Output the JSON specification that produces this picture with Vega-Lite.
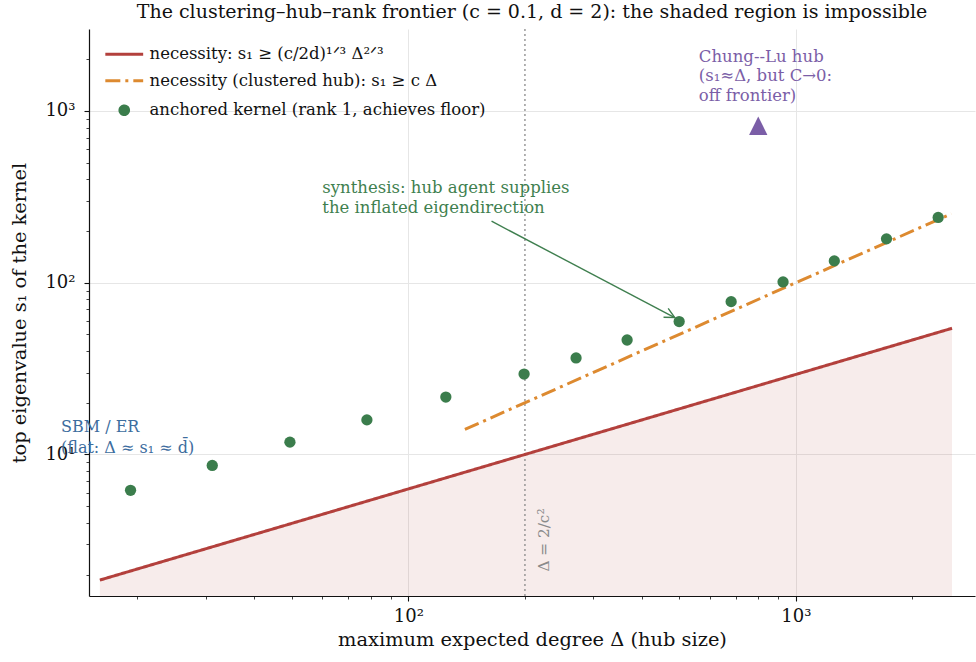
{
  "$schema": "https://vega.github.io/schema/vega-lite/v6.json",
  "width": 886,
  "height": 567,
  "autosize": "none",
  "padding": {"left": 89, "top": 29, "right": 1, "bottom": 66},
  "config": {
    "font": "DejaVu Serif",
    "view": {"stroke": null},
    "legend": {
      "orient": "none", "legendX": 27, "legendY": 17, "title": null,
      "labelFontSize": 16.5, "labelFont": "DejaVu Serif", "labelColor": "#111",
      "symbolStrokeWidth": 3, "symbolSize": 74, "labelOffset": 17, "rowPadding": 9.5, "padding": 0,
      "labelLimit": 600
    }
  },
  "title": {
    "text": "The clustering–hub–rank frontier (c = 0.1, d = 2): the shaded region is impossible",
    "fontSize": 19, "fontWeight": "normal", "font": "DejaVu Serif", "color": "#111", "anchor": "middle", "offset": 6
  },
  "datasets": {
    "necessity": [
      {"series": "necessity: s₁ ≥ (c/2d)¹ᐟ³ Δ²ᐟ³", "delta": 16, "s1": 1.857},
      {"series": "necessity: s₁ ≥ (c/2d)¹ᐟ³ Δ²ᐟ³", "delta": 200, "s1": 10.0},
      {"series": "necessity: s₁ ≥ (c/2d)¹ᐟ³ Δ²ᐟ³", "delta": 2530, "s1": 54.3}
    ],
    "clustered": [
      {"series": "necessity (clustered hub): s₁ ≥ c Δ", "delta": 140, "s1": 14.0},
      {"series": "necessity (clustered hub): s₁ ≥ c Δ", "delta": 2520, "s1": 252}
    ],
    "kernel": [
      {"series": "anchored kernel (rank 1, achieves floor)", "delta": 19.2, "s1": 6.19},
      {"series": "anchored kernel (rank 1, achieves floor)", "delta": 31.2, "s1": 8.63},
      {"series": "anchored kernel (rank 1, achieves floor)", "delta": 49.5, "s1": 11.8},
      {"series": "anchored kernel (rank 1, achieves floor)", "delta": 78.2, "s1": 15.9},
      {"series": "anchored kernel (rank 1, achieves floor)", "delta": 125, "s1": 21.6},
      {"series": "anchored kernel (rank 1, achieves floor)", "delta": 199, "s1": 29.4},
      {"series": "anchored kernel (rank 1, achieves floor)", "delta": 271, "s1": 36.5},
      {"series": "anchored kernel (rank 1, achieves floor)", "delta": 367, "s1": 46.4},
      {"series": "anchored kernel (rank 1, achieves floor)", "delta": 500, "s1": 59.4},
      {"series": "anchored kernel (rank 1, achieves floor)", "delta": 681, "s1": 77.6},
      {"series": "anchored kernel (rank 1, achieves floor)", "delta": 927, "s1": 101},
      {"series": "anchored kernel (rank 1, achieves floor)", "delta": 1257, "s1": 134},
      {"series": "anchored kernel (rank 1, achieves floor)", "delta": 1714, "s1": 180},
      {"series": "anchored kernel (rank 1, achieves floor)", "delta": 2330, "s1": 240}
    ],
    "chunglu": [{"label": "Chung--Lu hub", "delta": 800, "s1": 820}],
    "one": [{}]
  },
  "layer": [
    {
      "data": {"name": "necessity"},
      "mark": {"type": "area", "color": "#b3403c", "opacity": 0.1, "clip": true},
      "encoding": {
        "x": {
          "field": "delta", "type": "quantitative",
          "scale": {"type": "log", "domain": [15, 2900], "nice": false},
          "axis": {
            "title": "maximum expected degree Δ (hub size)",
            "values": [20, 30, 40, 50, 60, 70, 80, 90, 100, 200, 300, 400, 500, 600, 700, 800, 900, 1000, 2000],
            "labelExpr": "datum.value == 100 ? '10²' : datum.value == 1000 ? '10³' : ''",
            "tickSize": {"condition": {"test": "datum.value == 100 || datum.value == 1000", "value": 5}, "value": 3},
            "tickWidth": {"condition": {"test": "datum.value == 100 || datum.value == 1000", "value": 1.1}, "value": 0.8},
            "gridOpacity": {"condition": {"test": "datum.value == 100 || datum.value == 1000", "value": 1}, "value": 0},
            "gridColor": "#e6e6e6", "gridWidth": 1,
            "domainColor": "#111", "domainWidth": 1.2, "tickColor": "#111",
            "labelFontSize": 18, "labelColor": "#111", "labelPadding": 6, "labelOverlap": false, "labelFlush": false,
            "titleFontSize": 19.4, "titleFontWeight": "normal", "titleColor": "#111", "titlePadding": 5
          }
        },
        "y": {
          "field": "s1", "type": "quantitative",
          "scale": {"type": "log", "domain": [1.5, 3000], "nice": false},
          "axis": {
            "title": "top eigenvalue s₁ of the kernel",
            "values": [2, 3, 4, 5, 6, 7, 8, 9, 10, 20, 30, 40, 50, 60, 70, 80, 90, 100, 200, 300, 400, 500, 600, 700, 800, 900, 1000, 2000],
            "labelExpr": "datum.value == 10 ? '10¹' : datum.value == 100 ? '10²' : datum.value == 1000 ? '10³' : ''",
            "tickSize": {"condition": {"test": "datum.value == 10 || datum.value == 100 || datum.value == 1000", "value": 5}, "value": 3},
            "tickWidth": {"condition": {"test": "datum.value == 10 || datum.value == 100 || datum.value == 1000", "value": 1.1}, "value": 0.8},
            "gridOpacity": {"condition": {"test": "datum.value == 10 || datum.value == 100 || datum.value == 1000", "value": 1}, "value": 0},
            "gridColor": "#e6e6e6", "gridWidth": 1,
            "domainColor": "#111", "domainWidth": 1.2, "tickColor": "#111",
            "labelFontSize": 18, "labelColor": "#111", "labelPadding": 9, "labelOverlap": false, "labelFlush": false,
            "titleFontSize": 19.4, "titleFontWeight": "normal", "titleColor": "#111", "titlePadding": 15
          }
        },
        "y2": {"datum": 1.5}
      }
    },
    {
      "data": {"name": "one"},
      "mark": {"type": "rule", "color": "#8a8a8a", "strokeWidth": 1.3, "strokeDash": [2, 3]},
      "encoding": {"x": {"datum": 200}, "y": {"datum": 1.5}, "y2": {"datum": 3000}}
    },
    {
      "data": {"name": "necessity"},
      "mark": {"type": "line", "strokeWidth": 3, "strokeCap": "butt"},
      "encoding": {
        "x": {"field": "delta", "type": "quantitative"},
        "y": {"field": "s1", "type": "quantitative"},
        "color": {"field": "series", "type": "nominal",
          "scale": {"domain": ["necessity: s₁ ≥ (c/2d)¹ᐟ³ Δ²ᐟ³", "necessity (clustered hub): s₁ ≥ c Δ", "anchored kernel (rank 1, achieves floor)"], "range": ["#b3403c", "#dd8a30", "#3b7d4c"]}},
        "strokeDash": {"field": "series", "type": "nominal",
          "scale": {"domain": ["necessity: s₁ ≥ (c/2d)¹ᐟ³ Δ²ᐟ³", "necessity (clustered hub): s₁ ≥ c Δ", "anchored kernel (rank 1, achieves floor)"], "range": [[1, 0], [15, 5, 3, 5], [1, 0]]}}
      }
    },
    {
      "data": {"name": "clustered"},
      "mark": {"type": "line", "strokeWidth": 3, "strokeCap": "butt"},
      "encoding": {
        "x": {"field": "delta", "type": "quantitative"},
        "y": {"field": "s1", "type": "quantitative"},
        "color": {"field": "series", "type": "nominal"},
        "strokeDash": {"field": "series", "type": "nominal"}
      }
    },
    {
      "data": {"name": "kernel"},
      "mark": {"type": "point", "filled": true, "size": 127, "opacity": 1},
      "encoding": {
        "x": {"field": "delta", "type": "quantitative"},
        "y": {"field": "s1", "type": "quantitative"},
        "color": {"field": "series", "type": "nominal"},
        "shape": {"field": "series", "type": "nominal",
          "scale": {"domain": ["necessity: s₁ ≥ (c/2d)¹ᐟ³ Δ²ᐟ³", "necessity (clustered hub): s₁ ≥ c Δ", "anchored kernel (rank 1, achieves floor)"], "range": ["M-4.4,0H4.4", "M-4.4,0H4.4", "circle"]}}
      }
    },
    {
      "data": {"name": "chunglu"},
      "mark": {"type": "point", "filled": true, "shape": "M0,-1L-1,1L1,1Z", "size": 335, "color": "#7b5ea7", "opacity": 1},
      "encoding": {
        "x": {"field": "delta", "type": "quantitative"},
        "y": {"field": "s1", "type": "quantitative"}
      }
    },
    {
      "data": {"name": "one"},
      "mark": {"type": "text", "text": ["Chung--Lu hub", "(s₁≈Δ, but C→0:", "off frontier)"], "align": "left", "baseline": "top", "fontSize": 16.5, "lineHeight": 19.5, "color": "#7b5ea7"},
      "encoding": {"x": {"datum": 562}, "y": {"datum": 2300}}
    },
    {
      "data": {"name": "one"},
      "mark": {"type": "text", "text": ["SBM / ER", "(flat: Δ ≈ s₁ ≈ d̄)"], "align": "left", "baseline": "top", "fontSize": 16, "lineHeight": 21, "color": "#3d6d9e"},
      "encoding": {"x": {"datum": 12.7}, "y": {"datum": 16}}
    },
    {
      "data": {"name": "one"},
      "mark": {"type": "text", "text": ["synthesis: hub agent supplies", "the inflated eigendirection"], "align": "left", "baseline": "top", "fontSize": 16.5, "lineHeight": 19.5, "color": "#3f7f4f"},
      "encoding": {"x": {"datum": 60}, "y": {"datum": 394}}
    },
    {
      "data": {"name": "one"},
      "mark": {"type": "rule", "color": "#3f7f4f", "strokeWidth": 1.4},
      "encoding": {"x": {"datum": 164}, "y": {"datum": 228}, "x2": {"datum": 487}, "y2": {"datum": 62.7}}
    },
    {
      "data": {"name": "one"},
      "mark": {"type": "point", "shape": "M-1,-0.5L0,0L-1,0.5", "filled": false, "size": 400, "angle": 27.7, "color": "#3f7f4f", "strokeWidth": 1.4, "opacity": 1},
      "encoding": {"x": {"datum": 487}, "y": {"datum": 62.7}}
    },
    {
      "data": {"name": "one"},
      "mark": {"type": "text", "text": "Δ = 2/c²", "angle": 270, "align": "left", "baseline": "alphabetic", "fontSize": 15.3, "color": "#8a8a8a"},
      "encoding": {"x": {"datum": 230.8}, "y": {"datum": 2.08}}
    }
  ]
}
